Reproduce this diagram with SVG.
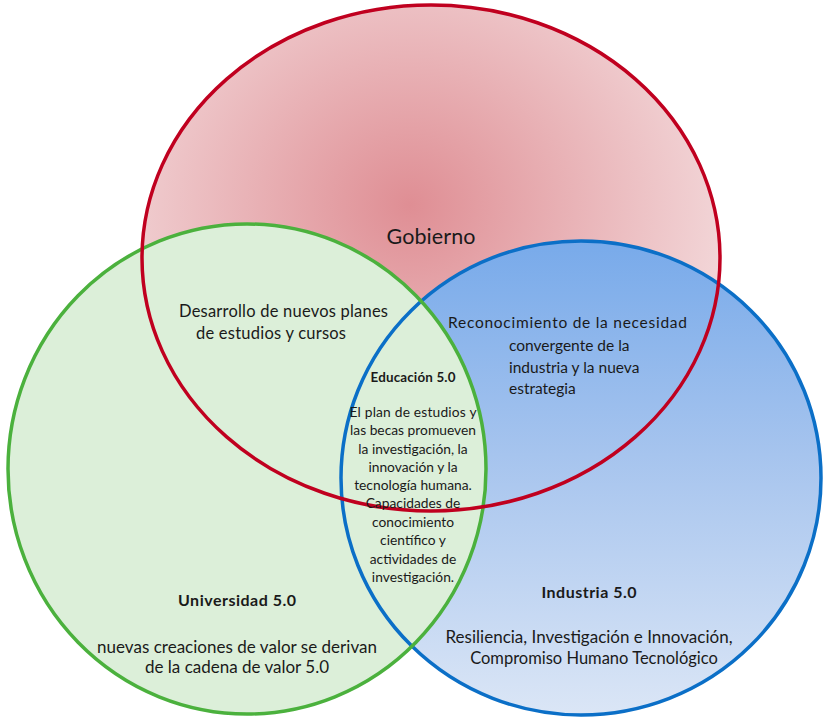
<svg xmlns="http://www.w3.org/2000/svg" width="823" height="719" viewBox="0 0 823 719">
<defs>
<radialGradient id="gRed" cx="410" cy="205" r="300" gradientUnits="userSpaceOnUse" gradientTransform="translate(410 205) scale(1.05 0.95) translate(-410 -205)">
<stop offset="0" stop-color="#df8e94"/>
<stop offset="1" stop-color="#f2d5d7"/>
</radialGradient>
<linearGradient id="gBlue" x1="0" y1="0" x2="0" y2="1">
<stop offset="0" stop-color="#78aaea"/>
<stop offset="0.45" stop-color="#a6c4ee"/>
<stop offset="1" stop-color="#dbe6f6"/>
</linearGradient>
<style>
.t{font-family:Lato,"Open Sans","Liberation Sans",sans-serif;fill:#1a1a1a}
.s16{font-size:16.5px}
.s13{font-size:13.8px}
.b{font-weight:bold}
.c{text-anchor:middle}
</style>
</defs>
<rect width="823" height="719" fill="#ffffff"/>
<g id="fills">
<ellipse cx="431" cy="258" rx="289" ry="253" fill="url(#gRed)"/>
<ellipse cx="581" cy="478" rx="240" ry="237" fill="url(#gBlue)"/>
<ellipse cx="247" cy="469" rx="239" ry="245" fill="#dcefd9"/>
</g>
<g id="outlines" fill="none" stroke-width="3.5">
<ellipse cx="581" cy="478" rx="240" ry="237" stroke="#0b6fc7"/>
<ellipse cx="247" cy="469" rx="239" ry="245" stroke="#4bb13d"/>
<ellipse cx="431" cy="258" rx="289" ry="253" stroke="#c0001f"/>
</g>
<g id="gobierno">
<text class="t c" x="431" y="244" font-size="21.5" textLength="89">Gobierno</text>
</g>
<g id="gob-uni">
<text class="t s16" x="179" y="317" textLength="209">Desarrollo de nuevos planes</text>
<text class="t s16" x="196" y="339" textLength="150">de estudios y cursos</text>
</g>
<g id="gob-ind">
<text class="t" font-size="15.5" x="448" y="328" textLength="239">Reconocimiento de la necesidad</text>
<text class="t" font-size="15.5" x="509" y="351">convergente de la</text>
<text class="t" font-size="15.5" x="509" y="373">industria y la nueva</text>
<text class="t" font-size="15.5" x="509" y="394">estrategia</text>
</g>
<g id="educacion">
<text class="t b c" font-size="13.4" x="413" y="382" textLength="85">Educación 5.0</text>
<text class="t s13 c" x="413" y="417" textLength="127">El plan de estudios y</text>
<text class="t s13 c" x="413" y="435">las becas promueven</text>
<text class="t s13 c" x="413" y="454">la investigación, la</text>
<text class="t s13 c" x="413" y="472">innovación y la</text>
<text class="t s13 c" x="413" y="490">tecnología humana.</text>
<text class="t s13 c" x="413" y="508">Capacidades de</text>
<text class="t s13 c" x="413" y="527">conocimiento</text>
<text class="t s13 c" x="413" y="545">científico y</text>
<text class="t s13 c" x="413" y="564">actividades de</text>
<text class="t s13 c" x="413" y="582">investigación.</text>
</g>
<g id="universidad">
<text class="t b c" x="237" y="606" font-size="16" textLength="118">Universidad 5.0</text>
<text class="t c" font-size="17" x="237" y="653" textLength="280">nuevas creaciones de valor se derivan</text>
<text class="t c" font-size="17" x="237" y="673">de la cadena de valor 5.0</text>
</g>
<g id="industria">
<text class="t b c" x="589" y="598" font-size="16" textLength="95">Industria 5.0</text>
<text class="t c" font-size="17" x="589" y="643" textLength="287">Resiliencia, Investigación e Innovación,</text>
<text class="t c" font-size="16.5" x="594" y="664">Compromiso Humano Tecnológico</text>
</g>
</svg>
